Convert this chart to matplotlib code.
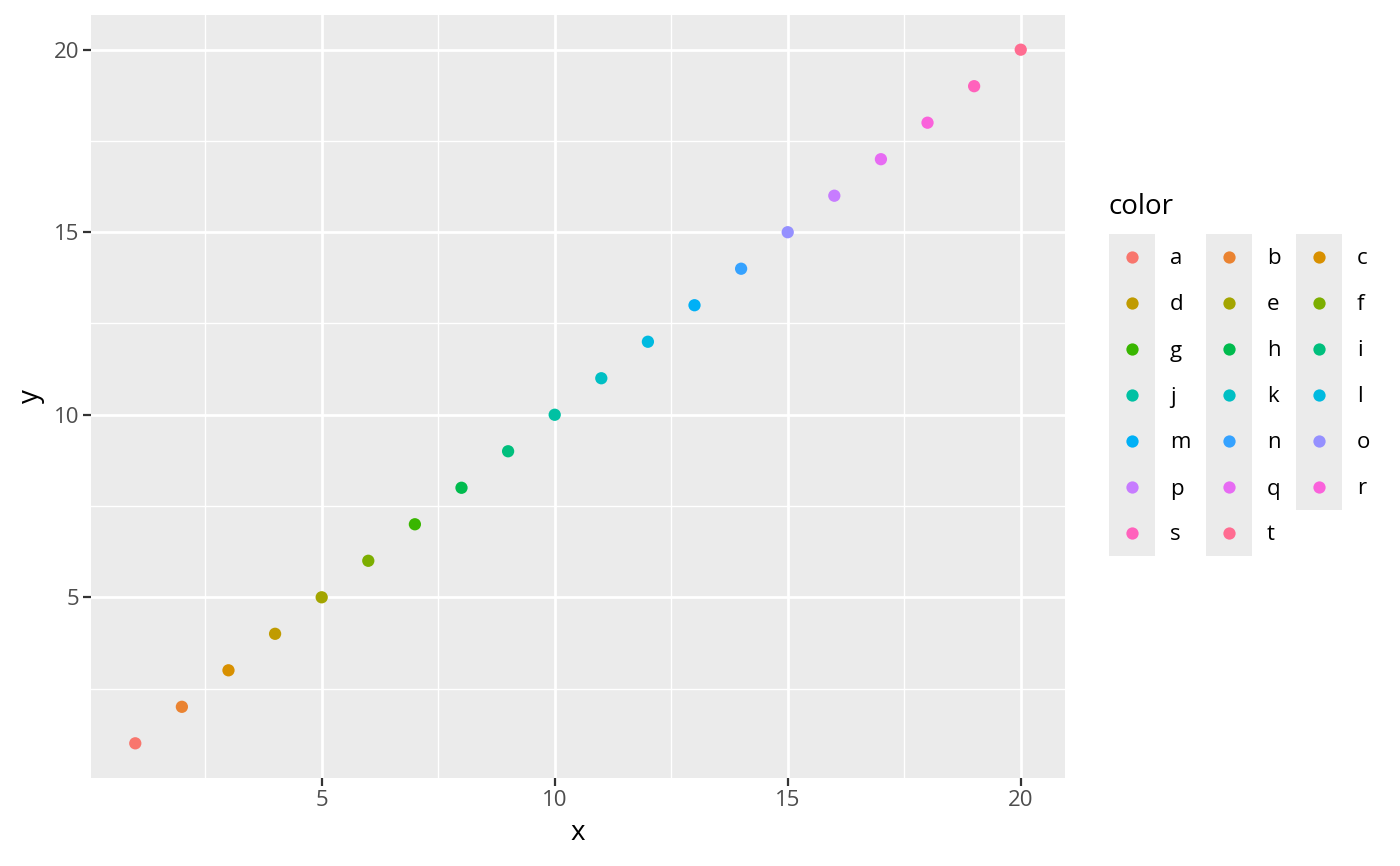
import matplotlib
matplotlib.use("Agg")
import matplotlib.pyplot as plt
from matplotlib.patches import Rectangle

labels = list("abcdefghijklmnopqrst")
x_vals = list(range(1, 21))
y_vals = list(range(1, 21))
colors = ["#F8766D", "#EA8331", "#D89000", "#C09B00", "#A3A500", "#7CAE00",
          "#39B600", "#00BB4E", "#00BF7D", "#00C1A3", "#00BFC4", "#00BAE0",
          "#00B0F6", "#35A2FF", "#9590FF", "#C77CFF", "#E76BF3", "#FA62DB",
          "#FF62BC", "#FF6C91"]
x_major = [5, 10, 15, 20]
x_minor = [2.5, 7.5, 12.5, 17.5]
y_major = [5, 10, 15, 20]
y_minor = [2.5, 7.5, 12.5, 17.5]

plt.rcParams['font.family'] = ['Open Sans', 'DejaVu Sans']

W, H = 1400, 866
fig = plt.figure(figsize=(W / 100, H / 100), dpi=100)
ax = fig.add_axes([91 / W, 1 - 778 / H, (1065 - 91) / W, (778 - 15) / H])
ax.set_facecolor("#EBEBEB")
for s in ax.spines.values():
    s.set_visible(False)

xr = max(x_vals) - min(x_vals)
yr = max(y_vals) - min(y_vals)
ax.set_xlim(min(x_vals) - 0.05 * xr, max(x_vals) + 0.05 * xr)
ax.set_ylim(min(y_vals) - 0.05 * yr, max(y_vals) + 0.05 * yr)

for v in x_minor:
    ax.axvline(v, color="white", lw=1.0, zorder=1)
for v in y_minor:
    ax.axhline(v, color="white", lw=1.0, zorder=1)
for v in x_major:
    ax.axvline(v, color="white", lw=2.0, zorder=1)
for v in y_major:
    ax.axhline(v, color="white", lw=2.0, zorder=1)

ax.scatter(x_vals, y_vals, c=colors, s=78, linewidths=0, zorder=3)

ax.set_xticks(x_major)
ax.set_yticks(y_major)
ax.set_xticklabels([str(v) for v in x_major])
ax.set_yticklabels([str(v) for v in y_major])
ax.tick_params(axis="both", colors="#333333", length=5.5, width=1.6,
               labelsize=16, labelcolor="#4D4D4D", pad=3)
ax.set_xlabel("x", fontsize=20, color="black", labelpad=6)
ax.set_ylabel("y", fontsize=20, color="black", labelpad=6)

# legend drawn in pixel space
lg = fig.add_axes([0, 0, 1, 1], facecolor="none")
lg.set_xlim(0, W)
lg.set_ylim(H, 0)
lg.axis("off")
lg.text(1109, 207, "color", fontsize=20, va="center", ha="left")
ncol = 3
key_w, key_h = 46, 46
col_x = [1109, 1206, 1296]
top = 234
for ci in range(ncol):
    idx = [i for i in range(len(labels)) if i % ncol == ci]
    lg.add_patch(Rectangle((col_x[ci], top), key_w, key_h * len(idx),
                           facecolor="#EBEBEB", edgecolor="none"))
    for r, i in enumerate(idx):
        cy = top + key_h * r + key_h / 2
        lg.scatter([col_x[ci] + key_w / 2], [cy], c=[colors[i]], s=78, linewidths=0)
        lg.text(col_x[ci] + key_w + 15, cy + 2, labels[i], fontsize=16,
                va="center", ha="left")

fig.savefig("out.png", dpi=100)
